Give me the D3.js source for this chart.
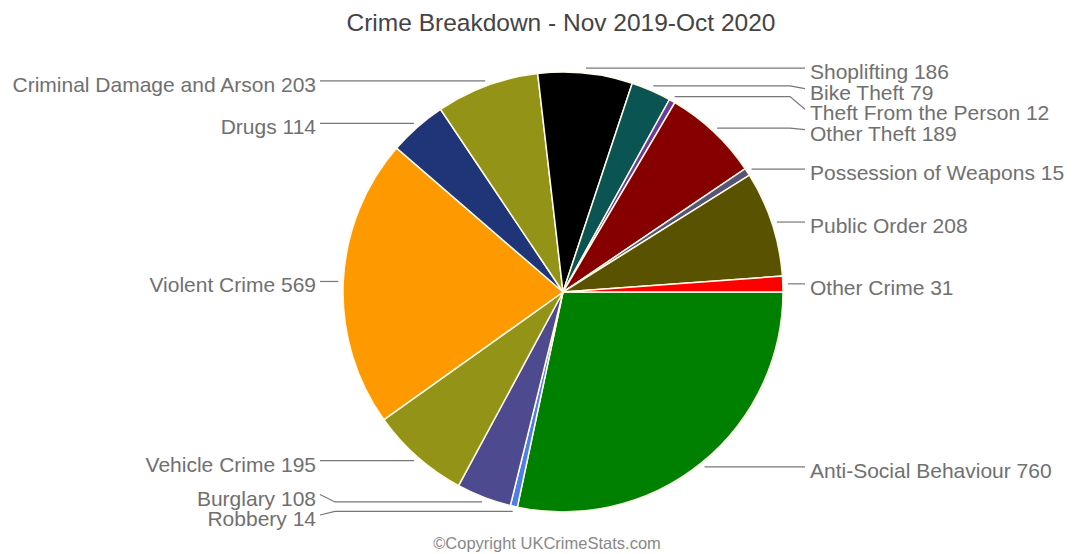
<!DOCTYPE html>
<html>
<head>
<meta charset="utf-8">
<script src="https://cdn.jsdelivr.net/npm/d3@7"></script>
<style>
  body { margin: 0; background: #fff; }
  text { font-family: "Liberation Sans", Arial, sans-serif; }
</style>
</head>
<body>
<svg id="chart"></svg>
<script>

// data, in drawing order (clockwise from 3 o'clock)
var categories = ["Anti-Social Behaviour", "Robbery", "Burglary", "Vehicle Crime", "Violent Crime",
                  "Drugs", "Criminal Damage and Arson", "Shoplifting", "Bike Theft",
                  "Theft From the Person", "Other Theft", "Possession of Weapons", "Public Order", "Other Crime"];
var counts = [760, 14, 108, 195, 569, 114, 203, 186, 79, 12, 189, 15, 208, 31];
var colours = ["#008000", "#4d7fe8", "#4d4a8f", "#939318", "#ff9900", "#1f3577", "#939318",
               "#000000", "#0b5454", "#6a3d9a", "#870000", "#555577", "#595200", "#ff0000"];
var title = "Crime Breakdown - Nov 2019-Oct 2020";
var footer = "\u00A9Copyright UKCrimeStats.com";

function draw_pie(){

  width = 1073;
  height = 554;
  cx = 563;
  cy = 292;
  radius = 220;
  anchorR = 225;
  gap = 20.5;

  svg = d3.select('#chart').attr('width', width).attr('height', height);

  svg.append('text')
     .attr('x', 561).attr('y', 31)
     .attr('text-anchor', 'middle')
     .attr('font-size', 24.5)
     .attr('fill', '#444')
     .text(title);

  rows = categories.map(function(c, i){ return {name: c, value: counts[i], colour: colours[i]}; });

  pie = d3.pie().sort(null).value(function(d){ return d.value; })
          .startAngle(Math.PI / 2).endAngle(Math.PI / 2 + 2 * Math.PI);
  arc = d3.arc().innerRadius(0).outerRadius(radius);
  arcs = pie(rows);

  g = svg.append('g').attr('transform', "translate(" + cx + "," + cy + ")");
  g.selectAll('path.slice')
   .data(arcs).enter()
   .append('path')
   .attr('class', 'slice')
   .attr('d', arc)
   .attr('fill', function(d){ return d.data.colour; })
   .attr('stroke', '#fffbe6')
   .attr('stroke-width', 1.5);

  // label anchors just outside the rim
  arcs.forEach(function(d){
    a = (d.startAngle + d.endAngle) / 2;
    d.ax = cx + anchorR * Math.sin(a);
    d.ay = cy - anchorR * Math.cos(a);
    d.right = Math.sin(a) > 0;
    d.ly = d.ay;
  });

  // push overlapping labels apart: down first, then back up from the bottom limit
  [true, false].forEach(function(side){
    list = arcs.filter(function(d){ return d.right == side; })
               .sort(function(a, b){ return a.ay - b.ay; });
    for (i = 1; i < list.length; i++)
      list[i].ly = Math.max(list[i].ly, list[i-1].ly + gap);
    maxY = cy + radius + 3;
    if (list.length) list[list.length-1].ly = Math.min(list[list.length-1].ly, maxY);
    for (i = list.length - 2; i >= 0; i--)
      list[i].ly = Math.min(list[i].ly, list[i+1].ly - gap);
  });

  rightX = 810;
  leftX = 316;

  svg.append('g').selectAll('path.leader')
     .data(arcs).enter()
     .append('path')
     .attr('class', 'leader')
     .attr('fill', 'none')
     .attr('stroke', '#777')
     .attr('stroke-width', 1.2)
     .attr('d', function(d){
        if (d.right)
          return "M" + d.ax + "," + d.ay + "L" + (rightX - 20) + "," + d.ay + "L" + (rightX - 5) + "," + d.ly;
        return "M" + d.ax + "," + d.ay + "L" + (leftX + 19) + "," + d.ay + "L" + (leftX + 4) + "," + d.ly;
     });

  svg.append('g').selectAll('text')
     .data(arcs).enter()
     .append('text')
     .attr('x', function(d){ return d.right ? rightX : leftX; })
     .attr('y', function(d){ return d.ly + 11; })
     .attr('text-anchor', function(d){ return d.right ? 'start' : 'end'; })
     .attr('font-size', 21)
     .attr('fill', '#707070')
     .text(function(d){ return d.data.name + " " + d.data.value; });

  svg.append('text')
     .attr('x', 547).attr('y', 549)
     .attr('text-anchor', 'middle')
     .attr('font-size', 16.5)
     .attr('fill', '#888')
     .text(footer);
}

draw_pie();
</script>
</body>
</html>
